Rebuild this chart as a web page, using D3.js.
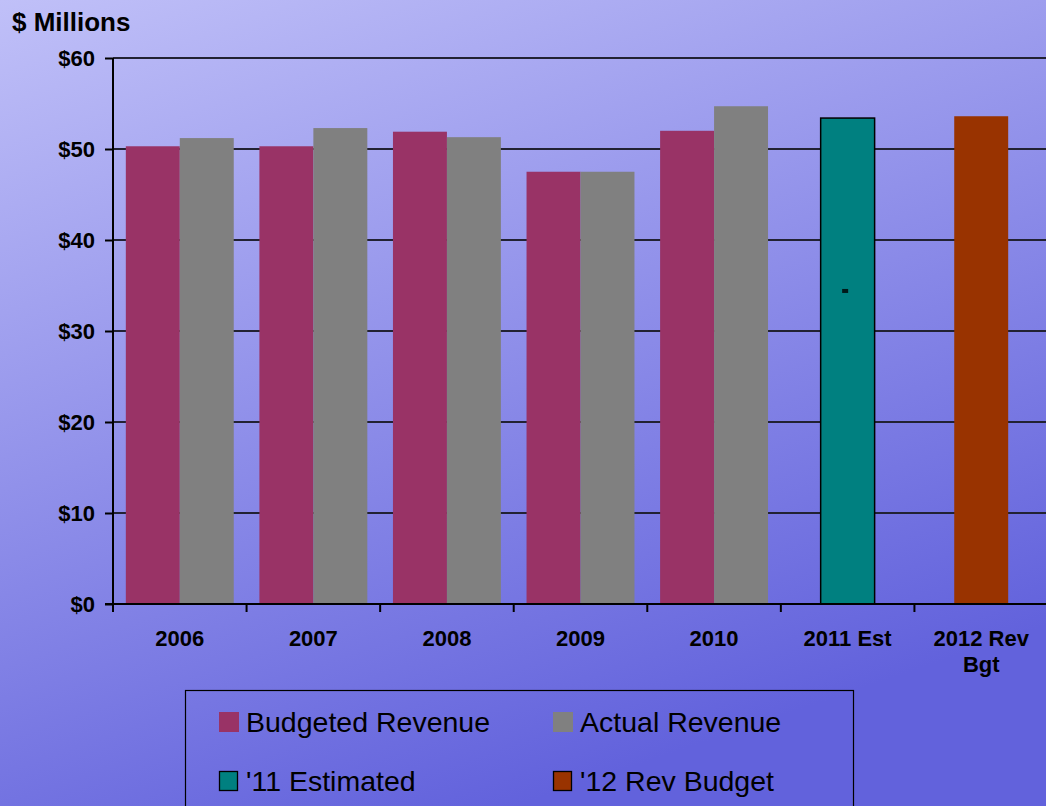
<!DOCTYPE html>
<html>
<head>
<meta charset="utf-8">
<script src="https://cdn.jsdelivr.net/npm/d3@7"></script>
<style>
  html, body { margin: 0; padding: 0; overflow: hidden; }
  svg { display: block; }
  text { font-family: "Liberation Sans", Arial, sans-serif; }
</style>
</head>
<body>
<svg id="chart" width="1046" height="806"></svg>
<script>
// Revenue history, $ millions
const categories = ["2006", "2007", "2008", "2009", "2010", "2011 Est", "2012 Rev\nBgt"];
const budgetedRevenue = [50.3, 50.3, 51.9, 47.5, 52.0, null, null];
const actualRevenue   = [51.2, 52.3, 51.3, 47.5, 54.7, null, null];
const estimated2011   = [null, null, null, null, null, 53.4, null];
const revBudget2012   = [null, null, null, null, null, null, 53.6];
const estimateMarker  = [{ cat: "2011 Est", value: 34.4 }];
const yTicks = [0, 10, 20, 30, 40, 50, 60];
const legendItems = [
  { label: "Budgeted Revenue", color: "#993366", stroke: false },
  { label: "Actual Revenue",   color: "#808080", stroke: false },
  { label: "'11 Estimated",    color: "#008080", stroke: true },
  { label: "'12 Rev Budget",   color: "#993300", stroke: true }
];

const W = 1046, H = 806;
const svg = d3.select("#chart");

// background gradient
const defs = svg.append("defs");
const bg = defs.append("linearGradient").attr("id", "bg")
  .attr("gradientUnits", "userSpaceOnUse")
  .attr("x1", 0).attr("y1", 0).attr("x2", 300).attr("y2", 880);
bg.append("stop").attr("offset", 0).attr("stop-color", "#c0c0f8");
bg.append("stop").attr("offset", 1).attr("stop-color", "#6262dc");
svg.append("rect").attr("width", W).attr("height", H).attr("fill", "url(#bg)");

const plot = { left: 113, top: 58, right: 1048, bottom: 604 };

const x0 = d3.scaleBand().domain(categories).range([plot.left, plot.right]).padding(0);
const step = x0.bandwidth();
const barW = step * 0.404;
const x1 = d3.scaleBand().domain(["budget", "actual"]).range([0, step]).paddingInner(0).paddingOuter((step - 2 * barW) / 2 / barW);
const y = d3.scaleLinear().domain([0, 60]).range([plot.bottom, plot.top]);

// gridlines
svg.append("g").selectAll("line").data(yTicks.filter(d => d > 0)).join("line")
  .attr("x1", plot.left).attr("x2", W)
  .attr("y1", d => y(d)).attr("y2", d => y(d))
  .attr("stroke", "#222233").attr("stroke-width", 2);

// paired bars
const pairs = [
  { key: "budget", values: budgetedRevenue, color: "#993366" },
  { key: "actual", values: actualRevenue, color: "#808080" }
];
pairs.forEach(s => {
  svg.append("g").selectAll("rect")
    .data(categories.map((c, i) => ({ c, v: s.values[i] })).filter(d => d.v != null))
    .join("rect")
    .attr("x", d => x0(d.c) + x1(s.key))
    .attr("width", x1.bandwidth())
    .attr("y", d => y(d.v))
    .attr("height", d => y(0) - y(d.v))
    .attr("fill", s.color);
});

// single bars
const singles = [
  { values: estimated2011, color: "#008080", stroke: "#000" },
  { values: revBudget2012, color: "#993300", stroke: null }
];
singles.forEach(s => {
  svg.append("g").selectAll("rect")
    .data(categories.map((c, i) => ({ c, v: s.values[i] })).filter(d => d.v != null))
    .join("rect")
    .attr("x", d => x0(d.c) + step / 2 - x1.bandwidth() / 2)
    .attr("width", x1.bandwidth())
    .attr("y", d => y(d.v))
    .attr("height", d => y(0) - y(d.v))
    .attr("fill", s.color)
    .attr("stroke", s.stroke || "none")
    .attr("stroke-width", 1.5);
});

// small label marker inside the estimate bar
svg.append("g").selectAll("rect").data(estimateMarker).join("rect")
  .attr("x", d => x0(d.cat) + step / 2 - 5.5)
  .attr("y", d => y(d.value) - 2)
  .attr("width", 6).attr("height", 4)
  .attr("fill", "#001a1a");

// y axis
const yAxis = d3.axisLeft(y).tickValues(yTicks).tickSize(8).tickFormat(d => "$" + d);
const gy = svg.append("g").attr("transform", `translate(${plot.left},0)`).call(yAxis);
gy.select(".domain").attr("stroke", "#000").attr("stroke-width", 2)
  .attr("d", `M0,${plot.top}V${plot.bottom}`);
gy.selectAll(".tick line").attr("stroke", "#000").attr("stroke-width", 2);
gy.selectAll(".tick text").attr("x", -18).attr("dy", "0.36em")
  .attr("fill", "#000").style("font-size", "22px").style("font-weight", "bold");

// x axis
const xAxis = d3.axisBottom(x0).tickSize(0).tickFormat("");
const gx = svg.append("g").attr("transform", `translate(0,${plot.bottom})`).call(xAxis);
gx.select(".domain").attr("stroke", "#000").attr("stroke-width", 2)
  .attr("d", `M${plot.left - 8},0H${W}`);
// category separators
gx.selectAll("line.sep").data(categories).join("line").attr("class", "sep")
  .attr("x1", d => x0(d)).attr("x2", d => x0(d))
  .attr("y1", 0).attr("y2", 8).attr("stroke", "#000").attr("stroke-width", 2);

// category labels
const catLabels = svg.append("g").selectAll("text").data(categories).join("text")
  .attr("x", d => x0(d) + step / 2)
  .attr("y", 646)
  .attr("text-anchor", "middle")
  .style("font-size", "22px").style("font-weight", "bold").attr("fill", "#000");
catLabels.each(function (d) {
  const lines = d.split("\n");
  d3.select(this).selectAll("tspan").data(lines).join("tspan")
    .attr("x", x0(d) + step / 2)
    .attr("dy", (l, i) => i === 0 ? 0 : 26)
    .text(l => l);
});

// unit title
svg.append("text").attr("x", 12).attr("y", 31)
  .style("font-size", "26px").style("font-weight", "bold").attr("fill", "#000")
  .text("$ Millions");

// legend
const lg = svg.append("g");
lg.append("rect").attr("x", 185.5).attr("y", 690.5).attr("width", 668).attr("height", 140)
  .attr("fill", "none").attr("stroke", "#000").attr("stroke-width", 1.2);
const cols = [219, 553];
const rows = [712, 771];
lg.selectAll("g.item").data(legendItems).join("g").attr("class", "item")
  .attr("transform", (d, i) => `translate(${cols[i % 2]},${rows[Math.floor(i / 2)]})`)
  .each(function (d) {
    const g = d3.select(this);
    g.append("rect").attr("x", d.stroke ? 0.5 : 0).attr("y", d.stroke ? 0.5 : 0)
      .attr("width", d.stroke ? 18 : 20).attr("height", d.stroke ? 19 : 20)
      .attr("fill", d.color)
      .attr("stroke", d.stroke ? "#000" : "none").attr("stroke-width", 1.3);
    g.append("text").attr("x", 27).attr("y", 20)
      .style("font-size", "28.5px").attr("fill", "#000").text(d.label);
  });
</script>
</body>
</html>
